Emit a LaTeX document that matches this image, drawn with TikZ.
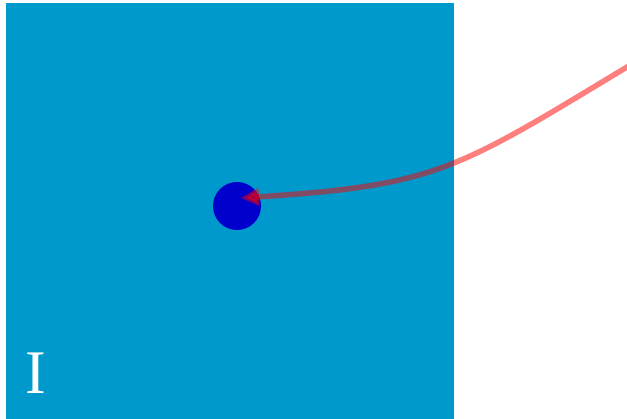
\documentclass[tikz,border=0pt]{standalone}
\usepackage{xcolor}
\usepackage{fontspec}
\usetikzlibrary{arrows.meta}
\newfontfamily\tagfont{Liberation Serif}
\definecolor{field}{HTML}{0099CC}
\definecolor{spot}{HTML}{0000CC}
\definecolor{trail}{HTML}{FF0000}
\tikzset{
  dot/.style={circle,fill=spot,minimum size=48pt,inner sep=0pt},
  path line/.style={trail,draw opacity=0.5,fill opacity=0.5,line width=5.5pt,-{Triangle[length=18pt,width=17pt]}}
}
\begin{document}
\begin{tikzpicture}[x=1pt,y=-1pt]
\useasboundingbox (0,0) rectangle (627,419);
% the region
\fill[field] (6,3) rectangle (454,420);
\node[text=white,font=\tagfont\fontsize{62}{62}\selectfont] (tag) at (36,373) {I};
% the point and its trail
\node[dot] (spot) at (237,206) {};
\coordinate (tip) at (241,198);
\coordinate (start) at (632,64);
\draw[path line] (start) .. controls (456,170) and (439,185) .. (tip);
\end{tikzpicture}
\end{document}
